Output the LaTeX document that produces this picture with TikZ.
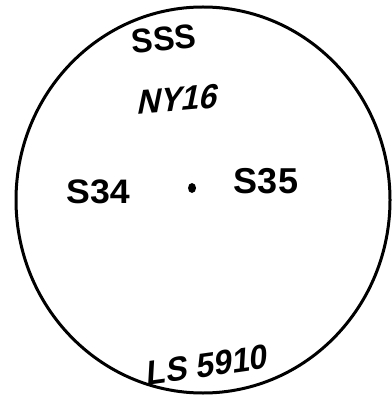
\documentclass[tikz,border=0pt]{standalone}
\usepackage{fontspec}
\setmainfont{Liberation Sans}
\begin{document}
\begin{tikzpicture}[x=1pt,y=-1pt,
  hand/.style={font=\fontsize{34}{34}\bfseries\selectfont, inner sep=0pt}]
\useasboundingbox (0,0) rectangle (391,403);
\fill[white] (0,0) rectangle (391,403);
\draw[line width=3pt] (203,200) ellipse [x radius=187, y radius=193];
\node[hand, rotate=5, xscale=0.95] (sss) at (164,39) {SSS};
\node[hand, rotate=5, xslant=0.3, xscale=0.95] (ny) at (179,99) {NY16};
\node[hand, xscale=1.05] (s34) at (98,192) {S34};
\fill (192,188) ellipse [x radius=4, y radius=5];
\node[hand, font=\fontsize{36}{36}\bfseries\selectfont] (s35) at (266,181) {S35};
\node[hand, rotate=8, xslant=0.2, xscale=0.95] (ls) at (208,365) {LS 5910};
\end{tikzpicture}
\end{document}
